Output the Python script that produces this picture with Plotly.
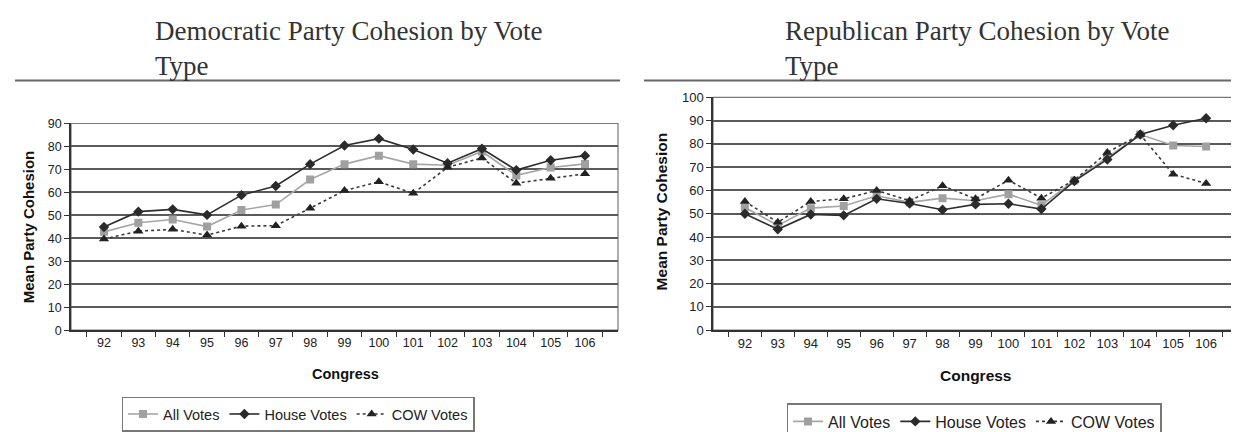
import plotly.graph_objects as go

congress = ["92", "93", "94", "95", "96", "97", "98", "99", "100", "101", "102", "103", "104", "105", "106"]

dem_all = [42.8, 46.8, 48.2, 45.1, 52.3, 54.7, 65.6, 72.3, 76.0, 72.3, 71.8, 77.8, 67.4, 70.8, 72.4]
dem_house = [44.9, 51.6, 52.6, 50.2, 58.8, 62.8, 72.3, 80.4, 83.4, 78.7, 72.7, 79.0, 69.7, 74.0, 76.0]
dem_cow = [39.7, 43.1, 43.9, 41.4, 45.3, 45.5, 53.1, 60.8, 64.6, 59.6, 70.9, 75.0, 64.0, 66.2, 68.1]

rep_all = [52.7, 45.0, 52.4, 53.3, 57.7, 54.9, 56.7, 55.6, 58.4, 53.6, 64.3, 74.3, 84.0, 79.3, 78.9]
rep_house = [50.0, 43.3, 49.7, 49.3, 56.4, 54.4, 51.7, 54.0, 54.3, 52.0, 64.0, 73.3, 84.0, 88.0, 91.0]
rep_cow = [55.3, 46.3, 55.3, 56.4, 60.0, 55.6, 62.0, 56.4, 64.4, 56.7, 64.4, 76.3, 84.0, 67.0, 63.0]

series_names = ["All Votes", "House Votes", "COW Votes"]
dem_title = "Democratic Party Cohesion by Vote<br>Type"
rep_title = "Republican Party Cohesion by Vote<br>Type"
y_title = "Mean Party Cohesion"
x_title = "Congress"

W, H = 1239, 432

def px_x(p):
    return p / W

def px_y(p):
    return 1 - p / H

styles = [
    dict(line=dict(color="#a6a6a6", width=1.6, dash="solid"),
         marker=dict(symbol="square", size=8, color="#a0a0a0")),
    dict(line=dict(color="#2e2e2e", width=1.6, dash="solid"),
         marker=dict(symbol="diamond", size=8, color="#2a2a2a")),
    dict(line=dict(color="#3a3a3a", width=1.6, dash="3px,3px"),
         marker=dict(symbol="triangle-up", size=9, color="#222222")),
]

fig = go.Figure()
for name, vals, st in zip(series_names, [dem_all, dem_house, dem_cow], styles):
    fig.add_trace(go.Scatter(x=congress, y=vals, name=name, mode="lines+markers",
                             xaxis="x", yaxis="y", legend="legend", **st))
for name, vals, st in zip(series_names, [rep_all, rep_house, rep_cow], styles):
    fig.add_trace(go.Scatter(x=congress, y=vals, name=name, mode="lines+markers",
                             xaxis="x2", yaxis="y2", legend="legend2", **st))

sans = "Liberation Sans, Arial, sans-serif"

def xax(size):
    return dict(type="category", tickson="boundaries", ticks="outside", ticklen=5,
                tickcolor="#333", showline=True, linecolor="#333", linewidth=1.5,
                mirror=False, showgrid=False, fixedrange=True,
                tickfont=dict(family=sans, size=size, color="#222"))

def yax(size):
    return dict(dtick=10, ticks="outside", ticklen=5, tickcolor="#333", showline=True,
                linecolor="#333", linewidth=1.5, showgrid=True, gridcolor="#5a5a5a",
                gridwidth=1.5, zeroline=False, fixedrange=True,
                tickfont=dict(family=sans, size=size, color="#222"))

fig.update_layout(
    width=W, height=H,
    margin=dict(l=0, r=0, t=0, b=0),
    paper_bgcolor="white", plot_bgcolor="white",
    xaxis=dict(domain=[px_x(63), px_x(610)], anchor="y", **xax(12.5)),
    yaxis=dict(domain=[px_y(337), px_y(116)], range=[0, 90], anchor="x", **yax(12.5)),
    xaxis2=dict(domain=[px_x(705), px_x(1230)], anchor="y2", **xax(13)),
    yaxis2=dict(domain=[px_y(337), px_y(88)], range=[0, 100], anchor="x2", **yax(13)),
    legend=dict(orientation="h", x=px_x(290), xanchor="center", y=px_y(408), yanchor="top",
                bordercolor="#777", borderwidth=1.5, bgcolor="white",
                font=dict(family=sans, size=14.5, color="#222"),
                itemwidth=30, tracegroupgap=0),
    legend2=dict(orientation="h", x=px_x(966), xanchor="center", y=px_y(415), yanchor="top",
                 bordercolor="#777", borderwidth=1.5, bgcolor="white",
                 font=dict(family=sans, size=16, color="#222"),
                 itemwidth=30, tracegroupgap=0),
    showlegend=True,
)

# plot-area frames
for xd, yd in [((63, 610), (116, 337)), ((705, 1230), (88, 337))]:
    fig.add_shape(type="rect", xref="paper", yref="paper",
                  x0=px_x(xd[0]), x1=px_x(xd[1]), y0=px_y(yd[1]), y1=px_y(yd[0]),
                  line=dict(color="#777", width=1.2), layer="below")

# title rules
fig.add_shape(type="line", xref="paper", yref="paper", x0=px_x(7), x1=px_x(612),
              y0=px_y(70), y1=px_y(70), line=dict(color="#666", width=2))
fig.add_shape(type="line", xref="paper", yref="paper", x0=px_x(636), x1=px_x(1236),
              y0=px_y(70), y1=px_y(70), line=dict(color="#666", width=2))

serif = dict(family="Liberation Serif, Times New Roman, serif", size=27, color="#333")
for txt, x0 in [(dem_title, 145), (rep_title, 775)]:
    fig.add_annotation(text=txt, xref="paper", yref="paper", x=px_x(x0), y=px_y(36),
                       xanchor="left", yanchor="middle", align="left",
                       showarrow=False, font=serif)

fig.add_annotation(text="<b>" + y_title + "</b>", xref="paper", yref="paper",
                   x=px_x(20), y=px_y(227), xanchor="center", yanchor="middle",
                   textangle=-90, showarrow=False,
                   font=dict(family=sans, size=15, color="#111"))
fig.add_annotation(text="<b>" + y_title + "</b>", xref="paper", yref="paper",
                   x=px_x(653), y=px_y(210), xanchor="center", yanchor="middle",
                   textangle=-90, showarrow=False,
                   font=dict(family=sans, size=15.5, color="#111"))
fig.add_annotation(text="<b>" + x_title + "</b>", xref="paper", yref="paper",
                   x=px_x(337), y=px_y(384), xanchor="center", yanchor="middle",
                   showarrow=False, font=dict(family=sans, size=14.5, color="#111"))
fig.add_annotation(text="<b>" + x_title + "</b>", xref="paper", yref="paper",
                   x=px_x(968), y=px_y(386), xanchor="center", yanchor="middle",
                   showarrow=False, font=dict(family=sans, size=15.5, color="#111"))

fig.write_html("out.html")
